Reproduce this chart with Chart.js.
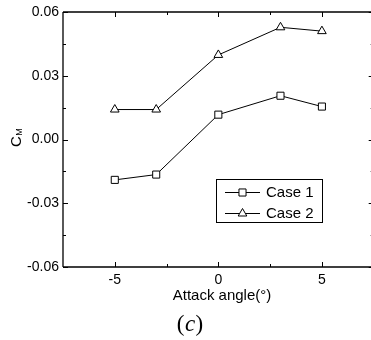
<!DOCTYPE html>
<html lang="en">
<head>
  <meta charset="UTF-8" />
  <title>C_M vs attack angle (c)</title>
  <script src="https://cdn.jsdelivr.net/npm/chart.js"></script>
  <style>
    html, body { margin: 0; padding: 0; background: #fff; }
    #wrap { width: 371px; height: 340px; }
  </style>
</head>
<body>
  <div id="wrap"><canvas id="chart"></canvas></div>

  <script>
    // data
    const angles = [-5, -3, 0, 3, 5];
    const case1 = [-0.019, -0.0165, 0.0117, 0.0206, 0.0155];
    const case2 = [0.0141, 0.0141, 0.0398, 0.0528, 0.0510];
    const seriesNames = ['Case 1', 'Case 2'];

    const xTicks = [-5, 0, 5];
    const yTicks = [-0.06, -0.03, 0.00, 0.03, 0.06];
    const yTickLabels = ['-0.06', '-0.03', '0.00', '0.03', '0.06'];
    const xTitle = 'Attack angle(°)';

    const FONT = '"Liberation Sans", Arial, sans-serif';

    const toXY = vals => angles.map((a, i) => ({ x: a, y: vals[i] }));

    // ticks pointing into the plot on all four sides, minor ones in between
    // (the right frame sits at x = 7.5, just past the canvas edge)
    const frameTicks = {
      id: 'frameTicks',
      afterDraw(chart) {
        const { ctx, chartArea: a, scales: { x, y } } = chart;
        const right = x.getPixelForValue(7.5);
        ctx.save();
        ctx.strokeStyle = '#000';
        ctx.lineWidth = 1.3;
        ctx.beginPath();
        ctx.moveTo(a.left, a.top); ctx.lineTo(right, a.top);
        ctx.moveTo(a.left, a.top); ctx.lineTo(a.left, a.bottom);
        ctx.moveTo(a.left, a.bottom); ctx.lineTo(right, a.bottom);
        ctx.moveTo(right, a.top); ctx.lineTo(right, a.bottom);
        ctx.stroke();

        ctx.lineWidth = 1;
        const xs = x.ticks.map(t => t.value);
        const ys = y.ticks.map(t => t.value);
        const mids = v => v.slice(1).map((t, i) => (t + v[i]) / 2);
        ctx.beginPath();
        xs.forEach(v => {
          const px = Math.round(x.getPixelForValue(v)) + 0.5;
          ctx.moveTo(px, a.bottom); ctx.lineTo(px, a.bottom - 5);
          ctx.moveTo(px, a.top); ctx.lineTo(px, a.top + 5);
        });
        mids(xs).forEach(v => {
          const px = Math.round(x.getPixelForValue(v)) + 0.5;
          ctx.moveTo(px, a.bottom); ctx.lineTo(px, a.bottom - 3);
          ctx.moveTo(px, a.top); ctx.lineTo(px, a.top + 3);
        });
        ys.forEach(v => {
          const py = Math.round(y.getPixelForValue(v)) + 0.5;
          ctx.moveTo(a.left, py); ctx.lineTo(a.left + 5, py);
          ctx.moveTo(right, py); ctx.lineTo(right - 5, py);
        });
        mids(ys).forEach(v => {
          const py = Math.round(y.getPixelForValue(v)) + 0.5;
          ctx.moveTo(a.left, py); ctx.lineTo(a.left + 3, py);
          ctx.moveTo(right, py); ctx.lineTo(right - 3, py);
        });
        ctx.stroke();
        ctx.restore();
      }
    };

    // legend box inside the plot, axis titles, panel label
    const extras = {
      id: 'extras',
      afterDraw(chart) {
        const { ctx } = chart;
        ctx.save();
        ctx.fillStyle = '#000';
        ctx.strokeStyle = '#000';

        // legend
        ctx.lineWidth = 1;
        ctx.strokeRect(216.5, 179.5, 106, 43);
        const rows = [192, 213];
        chart.data.datasets.forEach((ds, i) => {
          const yy = rows[i] + 0.5;
          ctx.beginPath();
          ctx.moveTo(225, yy); ctx.lineTo(260, yy);
          ctx.stroke();
          ctx.fillStyle = '#fff';
          Chart.helpers.drawPoint(ctx, {
            pointStyle: ds.pointStyle, radius: ds.pointRadius, borderWidth: 1
          }, 242.5, yy);
          ctx.fillStyle = '#000';
          ctx.font = '15px ' + FONT;
          ctx.textBaseline = 'middle';
          ctx.textAlign = 'left';
          ctx.fillText(ds.label, 266, rows[i] + 1);
        });

        // x title
        ctx.font = '15px ' + FONT;
        ctx.textAlign = 'center';
        ctx.textBaseline = 'middle';
        ctx.fillText(xTitle, 222, 296);

        // y title C_M
        ctx.save();
        ctx.translate(20.5, 147);
        ctx.rotate(-Math.PI / 2);
        ctx.textBaseline = 'alphabetic';
        ctx.textAlign = 'left';
        ctx.font = '15px ' + FONT;
        ctx.fillText('C', 0, 0);
        const cw = ctx.measureText('C').width;
        ctx.font = '9px ' + FONT;
        ctx.fillText('M', cw + 0.5, 1);
        ctx.restore();

        // panel label
        const serif = '"Liberation Serif", "Times New Roman", serif';
        ctx.textBaseline = 'middle';
        ctx.textAlign = 'left';
        ctx.font = '23px ' + serif;
        const pw = ctx.measureText('(').width;
        ctx.font = 'italic 23px ' + serif;
        const cwid = ctx.measureText('c').width;
        const total = pw * 2 + cwid + 1;
        const x0 = 190 - total / 2;
        const yy = 325;
        ctx.font = '23px ' + serif;
        ctx.fillText('(', x0, yy);
        ctx.font = 'italic 23px ' + serif;
        ctx.fillText('c', x0 + pw + 0.5, yy);
        ctx.font = '23px ' + serif;
        ctx.fillText(')', x0 + pw + cwid + 1, yy);
        ctx.restore();
      }
    };

    const pointOpts = {
      borderColor: '#000',
      backgroundColor: '#fff',
      pointBackgroundColor: '#fff',
      pointBorderColor: '#000',
      borderWidth: 1,
      pointBorderWidth: 1,
      pointRadius: 5,
      pointHoverRadius: 5,
      fill: false,
      tension: 0
    };

    const ctx = document.getElementById('chart').getContext('2d');
    const chart = new Chart(ctx, {
      type: 'line',
      data: {
        datasets: [
          { ...pointOpts, label: seriesNames[0], data: toXY(case1), pointStyle: 'rect' },
          { ...pointOpts, label: seriesNames[1], data: toXY(case2), pointStyle: 'triangle' }
        ]
      },
      options: {
        responsive: true,
        maintainAspectRatio: false,
        animation: false,
        layout: { autoPadding: false, padding: { top: 12, right: 0, left: 0, bottom: 0 } },
        plugins: {
          legend: { display: false },
          tooltip: { enabled: false },
          title: { display: false }
        },
        scales: {
          x: {
            type: 'linear',
            min: -7.5,
            max: 7.37,
            afterBuildTicks: s => { s.ticks = xTicks.map(v => ({ value: v })); },
            afterFit: s => { s.height = 73; s.paddingLeft = 0; s.paddingRight = 0; },
            grid: { display: false, drawTicks: false },
            border: { display: false },
            ticks: {
              padding: 5,
              color: '#000',
              font: { family: FONT, size: 14 },
              callback: v => String(v)
            }
          },
          y: {
            type: 'linear',
            min: -0.06,
            max: 0.06,
            afterBuildTicks: s => { s.ticks = yTicks.map(v => ({ value: v })); },
            afterFit: s => { s.width = 63; s.paddingTop = 0; s.paddingBottom = 0; },
            grid: { display: false, drawTicks: false },
            border: { display: false },
            ticks: {
              padding: 4,
              color: '#000',
              font: { family: FONT, size: 14 },
              callback: (v, i) => yTickLabels[i]
            }
          }
        }
      },
      plugins: [frameTicks, extras]
    });
  </script>
</body>
</html>
